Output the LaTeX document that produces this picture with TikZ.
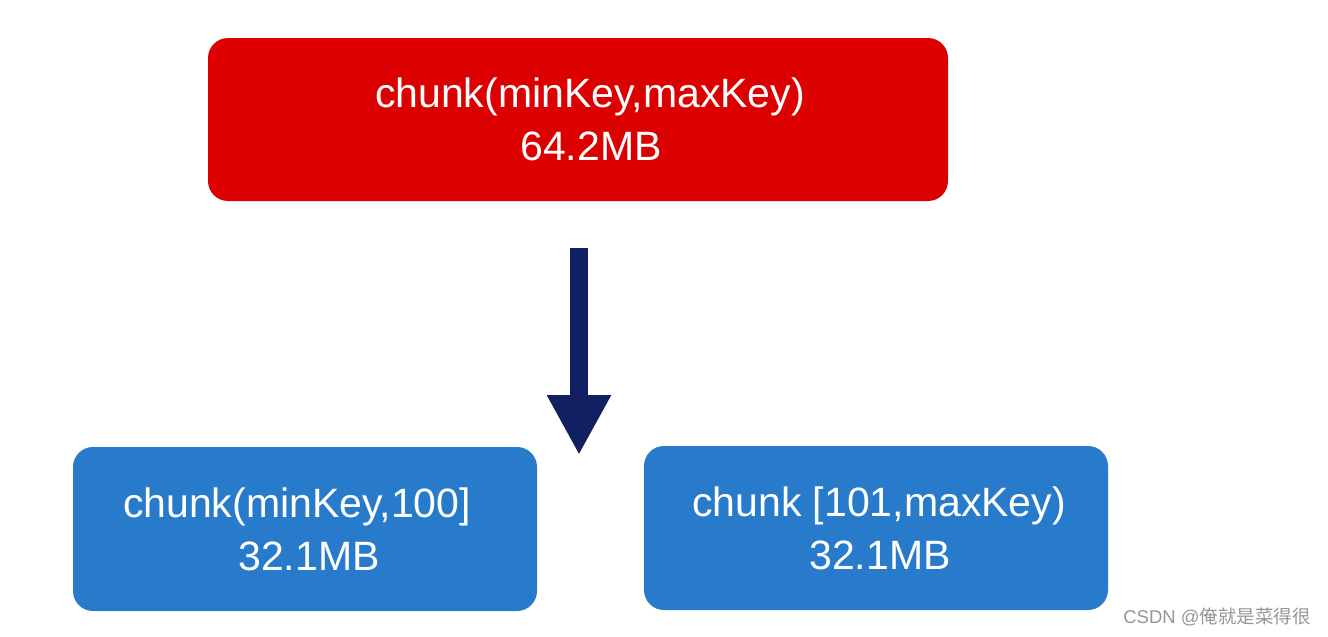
\documentclass[tikz,border=0pt]{standalone}
\usepackage{fontspec}
\setmainfont{Liberation Sans}
\newfontfamily\cjkfont{Noto Sans CJK SC}
\usetikzlibrary{arrows.meta}
\definecolor{boxred}{RGB}{220,0,0}
\definecolor{boxblue}{RGB}{40,122,202}
\definecolor{navy}{RGB}{16,32,96}
\definecolor{wmgray}{RGB}{150,150,150}
\begin{document}
\begin{tikzpicture}[x=1pt,y=1pt,
  chunkbox/.style={rounded corners=20pt, draw=none, text=white, align=center,
    inner sep=0pt, font=\fontsize{41}{53}\selectfont},
  bigarrow/.style={draw=navy, line width=18pt,
    -{Triangle[width=60pt,length=60pt]}, fill=navy}]
\useasboundingbox (0,0) rectangle (1328,-637);
\fill[white] (0,0) rectangle (1328,-637);
\node[chunkbox, fill=boxred, minimum width=740pt, minimum height=163pt] (top) at (578,-119.5) {\hspace*{24pt}chunk(minKey,maxKey)\\\hspace*{26pt}64.2MB};
\node[chunkbox, fill=boxblue, minimum width=464pt, minimum height=164pt] (left) at (305,-529) {chunk(minKey,100]\hspace*{16pt}\\\hspace*{8pt}32.1MB};
\node[chunkbox, fill=boxblue, minimum width=464pt, minimum height=164pt] (right) at (876,-528) {\hspace*{6pt}chunk [101,maxKey)\\\hspace*{8pt}32.1MB};
\coordinate (tip) at (579,-455);
\draw[bigarrow] ([xshift=1pt,yshift=-47pt]top.south) -- (tip);
\node[text=wmgray, inner sep=0pt, font=\fontsize{18.5}{20}\selectfont] (wm) at (1217,-617) {CSDN @{\cjkfont 俺就是菜得很}};
\end{tikzpicture}
\end{document}
